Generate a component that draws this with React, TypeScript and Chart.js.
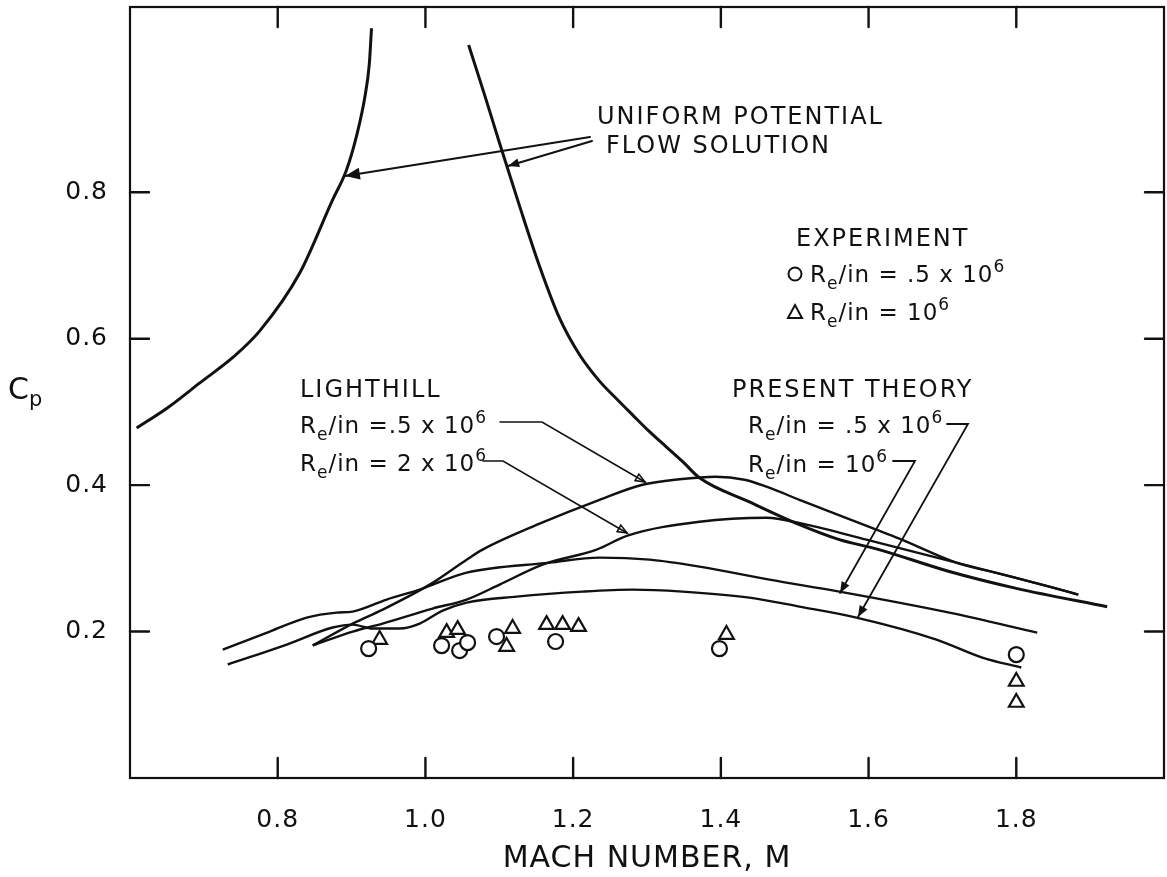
import React, { useEffect, useRef } from 'react';
import { Chart, registerables } from 'chart.js';
Chart.register(...registerables);

// ---- data (Mach number, pressure coefficient) ----
const potentialLeftM = [0.609, 0.650, 0.695, 0.740, 0.776, 0.830, 0.874, 0.893, 0.907, 0.918, 0.924, 0.927];
const potentialLeftCp = [0.478, 0.505, 0.540, 0.575, 0.611, 0.690, 0.789, 0.830, 0.878, 0.930, 0.975, 1.024];

const potentialRightM = [1.0585, 1.0801, 1.1004, 1.1275, 1.1545, 1.1816, 1.2087, 1.2357, 1.2587, 1.2804, 1.3034, 1.3264, 1.3494, 1.371, 1.4387, 1.5064, 1.5605, 1.6106, 1.7093, 1.80, 1.9231];
const potentialRightCp = [1.001, 0.933, 0.867, 0.781, 0.699, 0.628, 0.578, 0.542, 0.518, 0.496, 0.473, 0.452, 0.431, 0.410, 0.377, 0.346, 0.3255, 0.313, 0.282, 0.259, 0.234];

const lighthillHalfM = [0.8474, 0.9015, 0.9421, 1.0057, 1.0558, 1.0774, 1.1545, 1.2357, 1.2939, 1.344, 1.3927, 1.432, 1.4617, 1.5064, 1.551, 1.6106, 1.6417, 1.7188, 1.777, 1.8447, 1.8839];
const lighthillHalfCp = [0.181, 0.2109, 0.230, 0.2641, 0.2982, 0.3119, 0.3473, 0.380, 0.4005, 0.408, 0.4115, 0.4074, 0.3978, 0.380, 0.3623, 0.3392, 0.3269, 0.2941, 0.2791, 0.2614, 0.2505];

const lighthillTwoM = [0.8474, 0.9015, 0.9421, 1.0097, 1.0558, 1.1004, 1.1586, 1.2317, 1.2736, 1.371, 1.4617, 1.5158, 1.597, 1.7188, 1.777, 1.8447, 1.8839];
const lighthillTwoCp = [0.181, 0.200, 0.2109, 0.2314, 0.2437, 0.2641, 0.2914, 0.3119, 0.331, 0.350, 0.3555, 0.346, 0.3255, 0.2941, 0.2791, 0.2614, 0.2505];

const presentOneM = [0.7256, 0.7892, 0.8392, 0.8798, 0.9015, 0.9475, 0.9922, 1.0558, 1.1681, 1.2357, 1.3034, 1.371, 1.4658, 1.5605, 1.7093, 1.8284];
const presentOneCp = [0.1754, 0.200, 0.2191, 0.2259, 0.2273, 0.2437, 0.2573, 0.2805, 0.2941, 0.301, 0.2982, 0.2887, 0.2709, 0.2546, 0.2259, 0.1986];

const presentHalfM = [0.7323, 0.8122, 0.8744, 0.9015, 0.9286, 0.9651, 0.9922, 1.0233, 1.0558, 1.1234, 1.2127, 1.2804, 1.348, 1.4387, 1.5064, 1.5835, 1.6918, 1.754, 1.8068];
const presentHalfCp = [0.155, 0.1823, 0.2055, 0.2095, 0.2041, 0.2041, 0.2109, 0.2286, 0.2396, 0.2477, 0.2546, 0.2573, 0.2546, 0.2464, 0.2341, 0.2191, 0.1891, 0.1645, 0.1509];

const expCircleM = [0.9231, 1.0219, 1.0463, 1.0571, 1.0963, 1.1762, 1.3981, 1.80];
const expCircleCp = [0.1768, 0.1809, 0.1741, 0.185, 0.1932, 0.1864, 0.1768, 0.1686];

const expTriangleM = [0.938, 1.0287, 1.0436, 1.118, 1.1099, 1.164, 1.1857, 1.2073, 1.4076, 1.80, 1.80];
const expTriangleCp = [0.1891, 0.1986, 0.2027, 0.2041, 0.1795, 0.2095, 0.2095, 0.2068, 0.1959, 0.1318, 0.1031];

const xTickLabels = ['0.8', '1.0', '1.2', '1.4', '1.6', '1.8'];
const yTickLabels = ['0.2', '0.4', '0.6', '0.8'];

const F = '"DejaVu Sans", "Liberation Sans", sans-serif';
const INK = '#111';

type Part = [string, number];

function rich(ctx: CanvasRenderingContext2D, x: number, y: number, parts: Part[], size: number) {
  let cx = x;
  for (const [t, k] of parts) {
    const s = k === 0 ? size : Math.round(size * 0.75);
    ctx.font = `${s}px ${F}`;
    const dy = k === 1 ? size * 0.3 : k === 2 ? -size * 0.45 : 0;
    ctx.fillText(t, cx, y + dy);
    cx += ctx.measureText(t).width;
  }
  return cx;
}

function arrowPath(ctx: CanvasRenderingContext2D, pts: number[][], head: number, open: boolean) {
  ctx.beginPath();
  ctx.moveTo(pts[0][0], pts[0][1]);
  for (let i = 1; i < pts.length; i++) ctx.lineTo(pts[i][0], pts[i][1]);
  ctx.stroke();
  const [x1, y1] = pts[pts.length - 2];
  const [x2, y2] = pts[pts.length - 1];
  const a = Math.atan2(y2 - y1, x2 - x1);
  const w = 0.38;
  ctx.beginPath();
  ctx.moveTo(x2, y2);
  ctx.lineTo(x2 - head * Math.cos(a - w), y2 - head * Math.sin(a - w));
  ctx.lineTo(x2 - head * Math.cos(a + w), y2 - head * Math.sin(a + w));
  ctx.closePath();
  if (open) ctx.stroke();
  else ctx.fill();
}

export default function App() {
  const ref = useRef<HTMLCanvasElement>(null);

  useEffect(() => {
    const canvas = ref.current;
    if (!canvas) return;
    const pts = (m: number[], c: number[]) => m.map((x, i) => ({ x, y: c[i] }));
    const curve = (label: string, m: number[], c: number[], w: number) => ({
      label,
      data: pts(m, c),
      showLine: true,
      borderColor: INK,
      backgroundColor: INK,
      borderWidth: w,
      pointRadius: 0,
      pointHoverRadius: 0,
      cubicInterpolationMode: 'monotone' as const,
      fill: false,
    });

    const annot = {
      id: 'annot',
      beforeDraw(chart: any) {
        const c = chart.ctx;
        c.save();
        c.fillStyle = '#fff';
        c.fillRect(0, 0, chart.width, chart.height);
        c.restore();
        (c as any).letterSpacing = '1px';
      },
      afterDraw(chart: any) {
        const ctx: CanvasRenderingContext2D = chart.ctx;
        const { left, right, top, bottom } = chart.chartArea;
        const xs = chart.scales.x;
        const ys = chart.scales.y;
        ctx.save();
        ctx.strokeStyle = INK;
        ctx.fillStyle = INK;
        ctx.lineCap = 'round';
        // frame
        ctx.lineWidth = 2.2;
        ctx.strokeRect(left, top, right - left, bottom - top);
        // inward tick marks
        ctx.lineWidth = 2.4;
        for (const t of xs.ticks) {
          if (!xTickLabels.includes(Number(t.value).toFixed(1))) continue;
          const px = xs.getPixelForValue(t.value);
          ctx.beginPath();
          ctx.moveTo(px, bottom);
          ctx.lineTo(px, bottom - 20);
          ctx.moveTo(px, top);
          ctx.lineTo(px, top + 20);
          ctx.stroke();
        }
        for (const t of ys.ticks) {
          if (!yTickLabels.includes(Number(t.value).toFixed(1))) continue;
          const py = ys.getPixelForValue(t.value);
          ctx.beginPath();
          ctx.moveTo(left, py);
          ctx.lineTo(left + 19, py);
          ctx.moveTo(right, py);
          ctx.lineTo(right - 19, py);
          ctx.stroke();
        }

        // y-axis title C_p (horizontal)
        ctx.textBaseline = 'alphabetic';
        (ctx as any).letterSpacing = '0px';
        ctx.font = `30px ${F}`;
        ctx.fillText('C', 8, 399);
        ctx.font = `21px ${F}`;
        ctx.fillText('p', 29, 406);

        // annotations
        (ctx as any).letterSpacing = '2px';
        ctx.font = `24px ${F}`;
        ctx.fillText('UNIFORM POTENTIAL', 597, 124);
        ctx.fillText('FLOW SOLUTION', 606, 153);
        ctx.fillText('EXPERIMENT', 796, 246);
        ctx.fillText('PRESENT THEORY', 732, 397);
        ctx.fillText('LIGHTHILL', 300, 397);

        (ctx as any).letterSpacing = '1px';
        const S = 23;
        rich(ctx, 810, 282, [['R', 0], ['e', 1], ['/in = .5 x 10', 0], ['6', 2]], S);
        rich(ctx, 810, 320, [['R', 0], ['e', 1], ['/in = 10', 0], ['6', 2]], S);
        rich(ctx, 748, 433, [['R', 0], ['e', 1], ['/in = .5 x 10', 0], ['6', 2]], S);
        rich(ctx, 748, 472, [['R', 0], ['e', 1], ['/in = 10', 0], ['6', 2]], S);
        rich(ctx, 300, 433, [['R', 0], ['e', 1], ['/in =.5 x 10', 0], ['6', 2]], S);
        rich(ctx, 300, 471, [['R', 0], ['e', 1], ['/in = 2 x 10', 0], ['6', 2]], S);

        // legend symbols
        ctx.lineWidth = 2;
        ctx.beginPath();
        ctx.arc(795, 274, 6.5, 0, Math.PI * 2);
        ctx.stroke();
        ctx.beginPath();
        ctx.moveTo(795, 305);
        ctx.lineTo(802, 318);
        ctx.lineTo(788, 318);
        ctx.closePath();
        ctx.stroke();

        // arrows
        ctx.lineWidth = 2;
        arrowPath(ctx, [[590, 137], [345, 176]], 16, false);
        arrowPath(ctx, [[592, 141], [508, 166]], 12, false);
        ctx.lineWidth = 1.6;
        arrowPath(ctx, [[500, 422], [542, 422], [645, 482]], 10, true);
        arrowPath(ctx, [[483, 461], [503, 461], [627, 533]], 10, true);
        ctx.lineWidth = 1.8;
        arrowPath(ctx, [[947, 424], [968, 424], [858, 617]], 12, false);
        arrowPath(ctx, [[893, 461], [915, 461], [840, 593]], 12, false);
        ctx.restore();
      },
    };

    const chart = new Chart(canvas, {
      type: 'scatter',
      data: {
        datasets: [
          curve('Uniform potential flow (subsonic)', potentialLeftM, potentialLeftCp, 3),
          curve('Uniform potential flow (supersonic)', potentialRightM, potentialRightCp, 3),
          curve('Lighthill Re/in = .5x10^6', lighthillHalfM, lighthillHalfCp, 2.4),
          curve('Lighthill Re/in = 2x10^6', lighthillTwoM, lighthillTwoCp, 2.4),
          curve('Present theory Re/in = 10^6', presentOneM, presentOneCp, 2.4),
          curve('Present theory Re/in = .5x10^6', presentHalfM, presentHalfCp, 2.4),
          {
            label: 'Experiment Re/in = .5x10^6',
            data: pts(expCircleM, expCircleCp),
            showLine: false,
            pointStyle: 'circle',
            pointRadius: 7.5,
            borderWidth: 2.2,
            borderColor: INK,
            backgroundColor: '#fff',
          },
          {
            label: 'Experiment Re/in = 10^6',
            data: pts(expTriangleM, expTriangleCp),
            showLine: false,
            pointStyle: 'triangle',
            pointRadius: 8.5,
            borderWidth: 2.2,
            borderColor: INK,
            backgroundColor: '#fff',
          },
        ],
      },
      options: {
        responsive: false,
        animation: false,
        events: [],
        layout: { autoPadding: false, padding: { left: 0, right: 3, top: 7, bottom: 0 } },
        plugins: { legend: { display: false }, tooltip: { enabled: false }, title: { display: false } },
        scales: {
          x: {
            type: 'linear',
            min: 0.6,
            max: 2.0,
            afterFit: (s: any) => { s.height = 99; s.paddingLeft = 0; s.paddingRight = 0; s.paddingTop = 0; s.paddingBottom = 0; },
            grid: { display: false, drawTicks: false },
            border: { display: false },
            ticks: {
              stepSize: 0.2,
              autoSkip: false,
              maxRotation: 0,
              padding: 27,
              color: INK,
              font: { family: F, size: 25 },
              callback: (v: any) => { const s = Number(v).toFixed(1); return xTickLabels.includes(s) ? s : ''; },
            },
            title: { display: true, text: 'MACH NUMBER, M', color: INK, font: { family: F, size: 30 }, padding: { top: 0, bottom: 0 } },
          },
          y: {
            type: 'linear',
            min: 0,
            max: 1.053,
            afterFit: (s: any) => { s.width = 130; s.paddingLeft = 0; s.paddingRight = 0; s.paddingTop = 0; s.paddingBottom = 0; },
            grid: { display: false, drawTicks: false },
            border: { display: false },
            ticks: {
              stepSize: 0.2,
              autoSkip: false,
              padding: 22,
              color: INK,
              font: { family: F, size: 25 },
              callback: (v: any) => { const s = Number(v).toFixed(1); return yTickLabels.includes(s) ? s : ''; },
            },
          },
        },
      },
      plugins: [annot],
    } as any);
    return () => chart.destroy();
  }, []);

  return (
    <div style={{ position: 'absolute', left: 0, top: 0, width: 1167, height: 877, background: '#fff' }}>
      <canvas ref={ref} width={1167} height={877} style={{ display: 'block' }} />
    </div>
  );
}
